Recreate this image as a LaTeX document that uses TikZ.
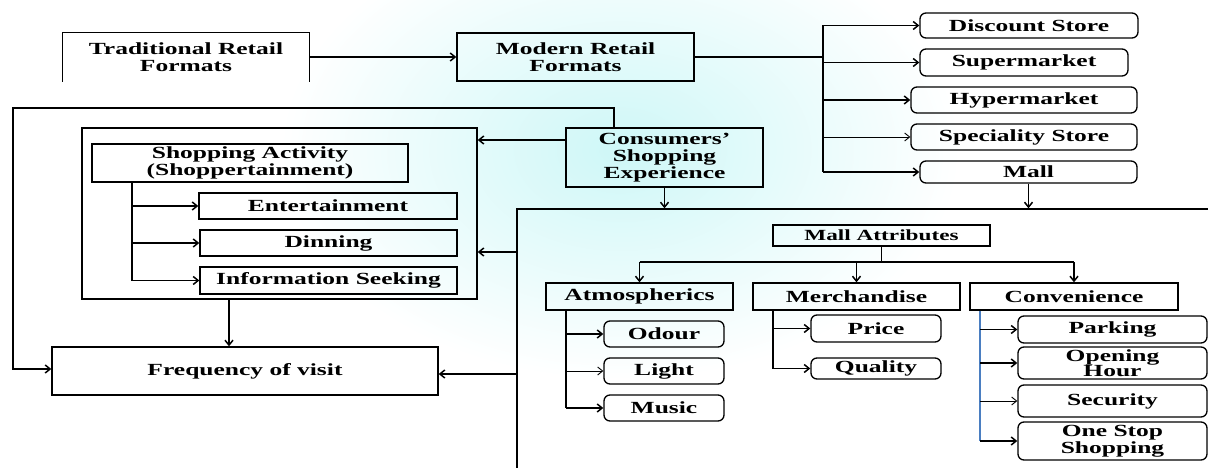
\documentclass[tikz,border=0pt]{standalone}
\usepackage{fontspec}
\newfontfamily\diagfont{Liberation Serif}[FakeStretch=1.5]
\usetikzlibrary{arrows.meta}
\definecolor{bgcyan}{RGB}{206,247,247}
\definecolor{convblue}{RGB}{74,126,193}
\tikzset{
  box/.style={draw, line width=1.3pt, inner sep=0pt, align=center,
    font=\diagfont\bfseries\fontsize{17}{17}\selectfont},
  rbox/.style={box, rounded corners=6pt},
  link/.style={line width=1.5pt},
  arr/.style={link, -{Straight Barb[length=5pt,width=8pt]}},
  thinarr/.style={arr, line width=0.9pt},
}
\begin{document}
\begin{tikzpicture}[x=1pt,y=-1pt]
\useasboundingbox (0,0) rectangle (1208,468);
\clip (0,0) rectangle (1208,468);
% background wash
\fill[white] (0,0) rectangle (1208,468);
\shade[inner color=bgcyan,outer color=white] (620,150) ellipse [x radius=340, y radius=230];

% retail formats
\node[box,draw=none,minimum width=246pt,minimum height=48pt] (trad) at (186,57) {Traditional Retail\\Formats};
\draw[line width=1.3pt] (trad.south west) -- (trad.north west) -- (trad.north east) -- (trad.south east);
\node[box,minimum width=237pt,minimum height=48pt] (modern) at (575.5,57) {Modern Retail\\Formats};
\draw[arr] (trad.east) -- (modern.west);

\node[rbox,minimum width=218pt,minimum height=25pt] (disc) at (1029,25.5) {Discount Store};
\node[rbox,minimum width=208pt,minimum height=27pt] (super) at (1024,62.5) {Supermarket};
\node[rbox,minimum width=226pt,minimum height=26pt] (hyper) at (1024,100) {Hypermarket};
\node[rbox,minimum width=226pt,minimum height=26pt] (spec) at (1024,137) {Speciality Store};
\node[rbox,minimum width=217pt,minimum height=22pt] (mall) at (1028.5,172) {Mall};
\coordinate (fmt) at (823,60);
\draw[link] (modern.east) -- (modern.east -| fmt);
\draw[link] (fmt |- disc) -- (fmt |- mall);
\foreach \f in {disc,super,hyper,mall}
  \draw[arr] (fmt |- \f) -- (\f.west);
\draw[thinarr] (fmt |- spec) -- (spec.west);

% shopping experience
\node[box,minimum width=197pt,minimum height=59pt] (cons) at (664.5,157.5) {Consumers’\\Shopping\\Experience};
\node[box,minimum width=395pt,minimum height=171pt] (shop) at (279.5,213.5) {};
\node[box,minimum width=316pt,minimum height=38pt] (act) at (250,163) {Shopping Activity\\(Shoppertainment)};
\node[box,minimum width=258pt,minimum height=26pt] (ent) at (328,206) {Entertainment};
\node[box,minimum width=257pt,minimum height=26pt] (din) at (328.5,243) {Dinning};
\node[box,minimum width=257pt,minimum height=27pt] (info) at (328.5,280.5) {Information Seeking};
\coordinate (acttrunk) at (132,182);
\draw[link] (act.south -| acttrunk) -- (acttrunk |- info);
\foreach \a in {ent,din,info}
  \draw[arr] (acttrunk |- \a) -- (\a.west);

\node[box,minimum width=386pt,minimum height=48pt] (freq) at (245,371) {Frequency of visit};

% mall attributes
\node[draw,line width=1.3pt,inner sep=0pt,minimum width=720pt,minimum height=300pt] (mallbox) at (877,359) {};
\node[box,font=\diagfont\bfseries\fontsize{15.5}{16}\selectfont,minimum width=217pt,minimum height=21pt] (attr) at (881.5,235.5) {Mall Attributes};
\node[box,minimum width=187pt,minimum height=27pt] (atmos) at (639.5,296.5) {Atmospherics};
\node[box,minimum width=207pt,minimum height=27pt] (merch) at (856.5,296.5) {Merchandise};
\node[box,minimum width=208pt,minimum height=27pt] (conv) at (1074,296.5) {Convenience};
\coordinate (split) at (882,262);
\draw[link] (attr.south) -- (attr.south |- split);
\draw[link] (atmos.north |- split) -- (conv.north |- split);
\foreach \m in {atmos,merch,conv}
  \draw[arr] (\m.north |- split) -- (\m.north);

\node[rbox,minimum width=120pt,minimum height=26pt] (odour) at (664,334) {Odour};
\node[rbox,minimum width=120pt,minimum height=26pt] (light) at (664,371) {Light};
\node[rbox,minimum width=120pt,minimum height=26pt] (music) at (664,408) {Music};
\coordinate (atmostrunk) at (566,310);
\draw[link] (atmos.south -| atmostrunk) -- (atmostrunk |- music);
\draw[arr] (atmostrunk |- odour) -- (odour.west);
\draw[thinarr] (atmostrunk |- light) -- (light.west);
\draw[arr] (atmostrunk |- music) -- (music.west);

\node[rbox,minimum width=130pt,minimum height=27pt] (price) at (876,328.5) {Price};
\node[rbox,minimum width=130pt,minimum height=21pt] (quality) at (876,368.5) {Quality};
\coordinate (merchtrunk) at (773,310);
\draw[link] (merch.south -| merchtrunk) -- (merchtrunk |- quality);
\foreach \m in {price,quality}
  \draw[arr] (merchtrunk |- \m) -- (\m.west);

\node[rbox,minimum width=189pt,minimum height=27pt] (park) at (1112.5,329.5) {Parking};
\node[rbox,font=\diagfont\bfseries\fontsize{17}{15}\selectfont,minimum width=189pt,minimum height=32pt] (open) at (1112.5,363) {Opening\\Hour};
\node[rbox,minimum width=189pt,minimum height=32pt] (secur) at (1112.5,401) {Security};
\node[rbox,minimum width=189pt,minimum height=38pt] (onestop) at (1112.5,441) {One Stop\\Shopping};
\coordinate (convtrunk) at (980,311);
\draw[convblue,line width=1.2pt] (conv.south -| convtrunk) -- (convtrunk |- onestop);
\foreach \c in {park,open,onestop}
  \draw[arr] (convtrunk |- \c) -- (\c.west);
\draw[thinarr] (convtrunk |- secur) -- (secur.west);

% flows between the blocks
\coordinate (loop) at (13,108);
\coordinate (consout) at ([xshift=-50.5pt]cons.north);
\coordinate (freqin) at ([yshift=2pt]freq.west);
\draw[arr] (consout) |- (loop) |- (freqin);
\coordinate (shopin) at ([yshift=-38.5pt]shop.east);
\draw[arr] ([yshift=17.5pt]cons.west) -- ([yshift=17.5pt]cons.west -| shop.east);
\draw[arr] (cons.south) -- (cons.south |- mallbox.north);
\draw[arr] (mall.south) -- (mall.south |- mallbox.north);
\draw[arr] (mallbox.west |- shopin) -- (shopin);
\coordinate (freqout) at ([yshift=-3pt]freq.east);
\draw[arr] (mallbox.west |- freqout) -- (freqout);
\coordinate (shopout) at ([xshift=-50.5pt]shop.south);
\draw[arr] (shopout) -- (shopout |- freq.north);
\end{tikzpicture}
\end{document}
